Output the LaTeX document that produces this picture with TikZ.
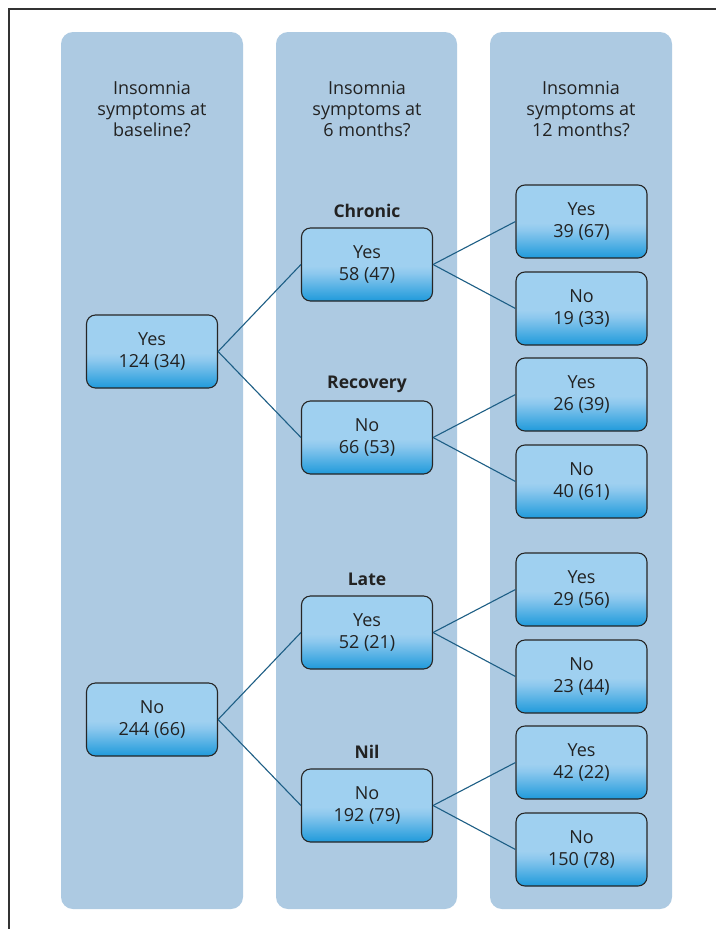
\documentclass[tikz,border=0pt]{standalone}
\usepackage{fontspec}
\setmainfont{Open Sans}
\definecolor{colbg}{HTML}{ADCAE2}
\definecolor{boxtop}{HTML}{9FD0F0}
\definecolor{boxmid}{HTML}{8CC8EE}
\definecolor{boxbot}{HTML}{1F9ADB}
\definecolor{connc}{HTML}{1D5E85}
\definecolor{txt}{HTML}{222222}
\pgfdeclareverticalshading{boxshade}{100bp}{color(0bp)=(boxbot); color(25bp)=(boxbot); color(44bp)=(boxmid); color(49bp)=(boxtop); color(100bp)=(boxtop)}
\begin{document}
\begin{tikzpicture}[x=1pt,y=-1pt,
  colbox/.style={fill=colbg,draw=none,rounded corners=12pt},
  nbox/.style={draw=black!85,line width=1.1pt,rounded corners=9pt,shading=boxshade,
    minimum width=131pt,minimum height=73pt,align=center,inner sep=0pt,
    font=\fontsize{18}{22}\selectfont,text=txt},
  head/.style={align=center,font=\fontsize{18}{21}\selectfont,text=txt},
  lab/.style={font=\fontsize{17.5}{21}\selectfont\bfseries,text=txt},
  conn/.style={draw=connc,line width=1.1pt}]
\useasboundingbox (0,0) rectangle (716,929);
\fill[white] (0,0) rectangle (716,929);
\draw[black!80,line width=1.4pt] (9,929) -- (9,9) -- (716,9);
% columns
\path[colbox] (61,32) rectangle (243,909);
\path[colbox] (276,32) rectangle (457,909);
\path[colbox] (490,32) rectangle (672,909);
% headers
\node[head] (h1) at (152,109) {Insomnia\\symptoms at\\baseline?};
\node[head] (h2) at (367,109) {Insomnia\\symptoms at\\6 months?};
\node[head] (h3) at (581,109) {Insomnia\\symptoms at\\12 months?};
% baseline
\node[nbox] (a1) at (152,351.5) {Yes\\124 (34)};
\node[nbox] (a2) at (152,719.5) {No\\244 (66)};
% 6 months
\node[nbox] (b1) at (367,264.5) {Yes\\58 (47)};
\node[nbox] (b2) at (367,437.5) {No\\66 (53)};
\node[nbox] (b3) at (367,632.5) {Yes\\52 (21)};
\node[nbox] (b4) at (367,805.5) {No\\192 (79)};
\node[lab] (l1) at (367,211) {Chronic};
\node[lab] (l2) at (367,384) {Recovery};
\node[lab] (l3) at (367,579) {Late};
\node[lab] (l4) at (367,752) {Nil};
% 12 months
\node[nbox] (c1) at (581.5,221.5) {Yes\\39 (67)};
\node[nbox] (c2) at (581.5,308.5) {No\\19 (33)};
\node[nbox] (c3) at (581.5,394.5) {Yes\\26 (39)};
\node[nbox] (c4) at (581.5,481.5) {No\\40 (61)};
\node[nbox] (c5) at (581.5,589.5) {Yes\\29 (56)};
\node[nbox] (c6) at (581.5,676.5) {No\\23 (44)};
\node[nbox] (c7) at (581.5,762.5) {Yes\\42 (22)};
\node[nbox] (c8) at (581.5,849.5) {No\\150 (78)};
% connectors
\draw[conn] (a1.east) -- (b1.west);
\draw[conn] (a1.east) -- (b2.west);
\draw[conn] (a2.east) -- (b3.west);
\draw[conn] (a2.east) -- (b4.west);
\draw[conn] (b1.east) -- (c1.west);
\draw[conn] (b1.east) -- (c2.west);
\draw[conn] (b2.east) -- (c3.west);
\draw[conn] (b2.east) -- (c4.west);
\draw[conn] (b3.east) -- (c5.west);
\draw[conn] (b3.east) -- (c6.west);
\draw[conn] (b4.east) -- (c7.west);
\draw[conn] (b4.east) -- (c8.west);
\end{tikzpicture}
\end{document}
